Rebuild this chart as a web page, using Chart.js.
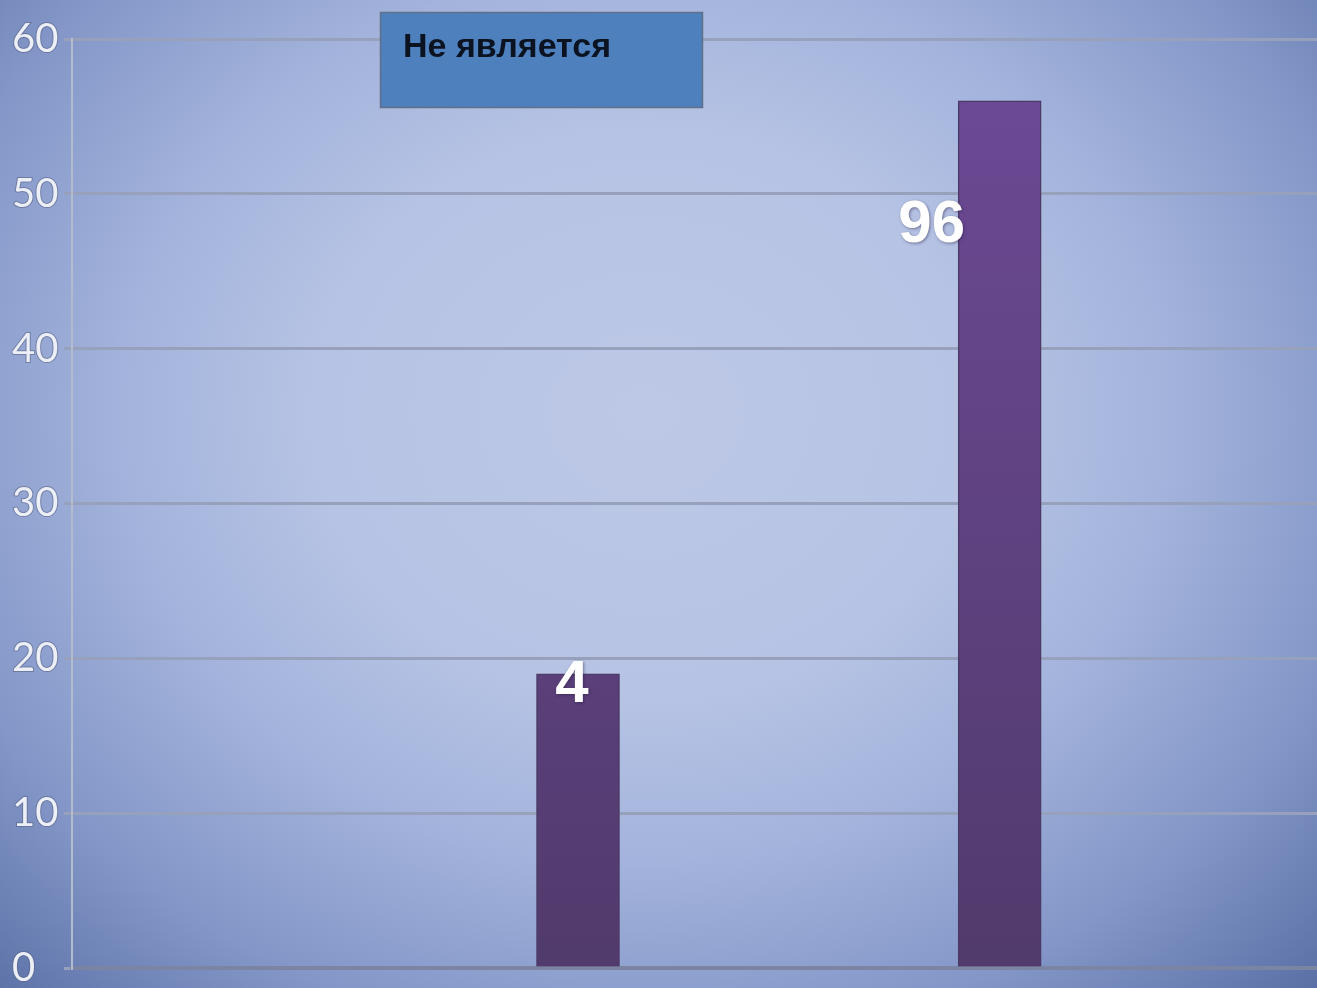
<!DOCTYPE html>
<html>
<head>
<meta charset="utf-8">
<script src="https://cdn.jsdelivr.net/npm/chart.js@4.4.1/dist/chart.umd.min.js"></script>
<style>
  html, body { margin: 0; padding: 0; overflow: hidden; }
  body {
    width: 1317px; height: 988px;
    background: radial-gradient(ellipse farthest-corner at 49% 42%, #bdc8e6 0%, #b6c3e4 35%, #a3b3dc 55%, #8396c7 78%, #5a70a6 100%);
  }
  #wrap { position: absolute; left: 0; top: 0; width: 1337px; height: 988px; }
</style>
</head>
<body>
<div id="wrap"><canvas id="myChart" width="1337" height="988"></canvas></div>
<script>
// slots along the x axis, only two of them carry a bar
const categories = ['', '', '', '', '', '', '', '', '', '', '', '', '', '', '', ''];
const values = [null, null, null, null, null, null, 19, null, null, null, null, 56, null, null, null, null];
const valueLabels = [null, null, null, null, null, null, '4', null, null, null, null, '96', null, null, null, null];
const seriesName = 'Не является';
const yTicks = [0, 10, 20, 30, 40, 50, 60];

const ctx = document.getElementById('myChart');

// white numbers near the bars, placed as in the slide
const labelOffsets = { 6: [-6, 12], 11: [-68, 125] };
const barLabels = {
  id: 'barLabels',
  afterDatasetsDraw(chart) {
    const c = chart.ctx;
    const meta = chart.getDatasetMeta(0);
    c.save();
    c.font = 'bold 60px "Liberation Sans", Arial, sans-serif';
    c.fillStyle = '#ffffff';
    c.textAlign = 'center';
    c.textBaseline = 'middle';
    c.shadowColor = 'rgba(40,30,70,0.5)';
    c.shadowBlur = 3;
    c.shadowOffsetX = 1;
    c.shadowOffsetY = 1;
    meta.data.forEach((bar, i) => {
      if (valueLabels[i] == null) return;
      const off = labelOffsets[i] || [0, 0];
      c.fillText(valueLabels[i], bar.x + off[0], bar.y + off[1]);
    });
    c.restore();
  }
};

// legend box overlapping the top of the plot
const boxLegend = {
  id: 'boxLegend',
  afterDraw(chart) {
    const c = chart.ctx;
    c.save();
    c.fillStyle = '#4e80be';
    c.fillRect(380, 12, 323, 96);
    c.strokeStyle = '#607089';
    c.lineWidth = 1.5;
    c.strokeRect(380.5, 12.5, 322, 95);
    c.font = 'bold 34px "Liberation Sans", Arial, sans-serif';
    c.fillStyle = '#0b1220';
    c.textBaseline = 'middle';
    c.fillText(chart.data.datasets[0].label, 403, 48);
    c.restore();
  }
};

new Chart(ctx, {
  type: 'bar',
  data: {
    labels: categories,
    datasets: [{
      label: seriesName,
      data: values,
      barThickness: 83,
      backgroundColor: (context) => {
        const area = context.chart.chartArea;
        if (!area) return '#5f4384';
        const g = context.chart.ctx.createLinearGradient(0, area.top, 0, area.bottom);
        g.addColorStop(0, '#6e4a97');
        g.addColorStop(1, '#513a6c');
        return g;
      },
      borderColor: '#4b3a66',
      borderWidth: 1.5
    }]
  },
  options: {
    responsive: false,
    animation: false,
    devicePixelRatio: 1,
    layout: { padding: { left: 12, top: 39, right: 0, bottom: 0 } },
    plugins: {
      legend: { display: false },
      tooltip: { enabled: false }
    },
    scales: {
      x: {
        offset: false,
        grid: { display: false },
        ticks: { display: false },
        border: { display: true, color: '#7b85a3', width: 4 },
        afterFit: (scale) => { scale.height = 20; }
      },
      y: {
        min: 0,
        max: 60,
        afterBuildTicks: (scale) => { scale.ticks = yTicks.map(v => ({ value: v })); },
        grid: { color: '#98a1bc', lineWidth: 3, tickLength: 8, drawTicks: true },
        border: { display: true, color: '#b3bbcf', width: 2 },
        ticks: {
          crossAlign: 'far',
          color: '#eceff6',
          textStrokeColor: 'rgba(90,100,135,0.6)',
          textStrokeWidth: 2,
          font: { family: 'Lato, "Open Sans", sans-serif', size: 40 }
        },
        afterFit: (scale) => {
          scale.width = 60;
          scale.paddingTop = 0;
          scale.paddingBottom = 0;
        }
      }
    }
  },
  plugins: [barLabels, boxLegend]
});
</script>
</body>
</html>
